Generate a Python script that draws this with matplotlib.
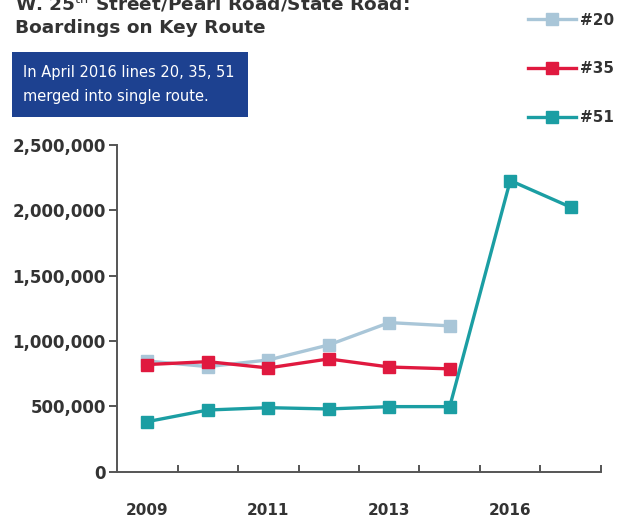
import numpy as np
import matplotlib.pyplot as plt
from matplotlib.patches import Rectangle

years = ["2009", "2010", "2011", "2012", "2013", "2014", "2016", "2017"]
year_labels = ["2009", "", "2011", "", "2013", "", "2016", ""]

route20 = [847000, 804000, 855000, 970000, 1141000, 1116000, None, None]
route35 = [820000, 842000, 794000, 863000, 801000, 787000, None, None]
route51 = [383000, 472000, 490000, 480000, 498000, 498000, 2228000, 2024000]

c20 = "#a9c6d8"
c35 = "#e0193f"
c51 = "#1b9ea3"
ink = "#333333"

def arr(v):
    return np.array([np.nan if x is None else x for x in v], dtype=float)

fig = plt.figure(figsize=(6.29, 5.23), dpi=100)
ax = fig.add_axes([117/629, 1 - 471.7/523, (601-117)/629, (471.7-145)/523])

x = np.arange(len(years))
for vals, col, lab in [(route20, c20, "#20"), (route35, c35, "#35"), (route51, c51, "#51")]:
    ax.plot(x, arr(vals), "-s", color=col, lw=2.4, ms=8.5, label=lab)

ax.set_xlim(-0.5, 7.5)
ax.set_ylim(0, 2500000)
ax.set_yticks(np.arange(0, 2500001, 500000))
ax.set_yticklabels([f"{int(v):,}" for v in np.arange(0, 2500001, 500000)])
ax.tick_params(axis="y", direction="out", length=6, width=1.4, color="#555555",
               labelsize=12, labelcolor=ink, pad=2)
for t in ax.get_yticklabels():
    t.set_fontweight("bold")

ax.set_xticks(np.arange(0.5, 8, 1))
ax.set_xticklabels([])
ax.tick_params(axis="x", direction="in", length=5, width=1.4, color="#555555")
for i, lab in enumerate(year_labels):
    if lab:
        ax.text(i, -0.095, lab, transform=ax.get_xaxis_transform(), ha="center", va="top",
                fontsize=11, fontweight="bold", color=ink)

for s in ["top", "right"]:
    ax.spines[s].set_visible(False)
for s in ["left", "bottom"]:
    ax.spines[s].set_color("#555555")
    ax.spines[s].set_linewidth(1.4)

# title, first line runs off the top edge
fig.text(15/629, 1 - 10/523, "W. 25$^{\\mathrm{th}}$ Street/Pearl Road/State Road:",
         fontsize=13.3, fontweight="bold", color=ink, va="baseline", ha="left")
fig.text(15/629, 1 - 33/523, "Boardings on Key Route",
         fontsize=13.3, fontweight="bold", color=ink, va="baseline", ha="left")

# note box
fig.patches.append(Rectangle((12/629, 1 - 117/523), 236/629, 65/523,
                             transform=fig.transFigure, facecolor="#1d4190",
                             edgecolor="none"))
fig.text(23/629, 1 - 85/523, "In April 2016 lines 20, 35, 51\nmerged into single route.",
         fontsize=10.5, color="white", va="center", ha="left", linespacing=1.75)

leg = fig.legend(loc="upper right", bbox_to_anchor=(628/629, 1 + 1/523), frameon=False,
                 handlelength=3.1, labelspacing=2.2, handletextpad=0.3,
                 prop={"size": 11, "weight": "bold"})
for t in leg.get_texts():
    t.set_color(ink)

fig.savefig("out.png", dpi=100, facecolor="white")
